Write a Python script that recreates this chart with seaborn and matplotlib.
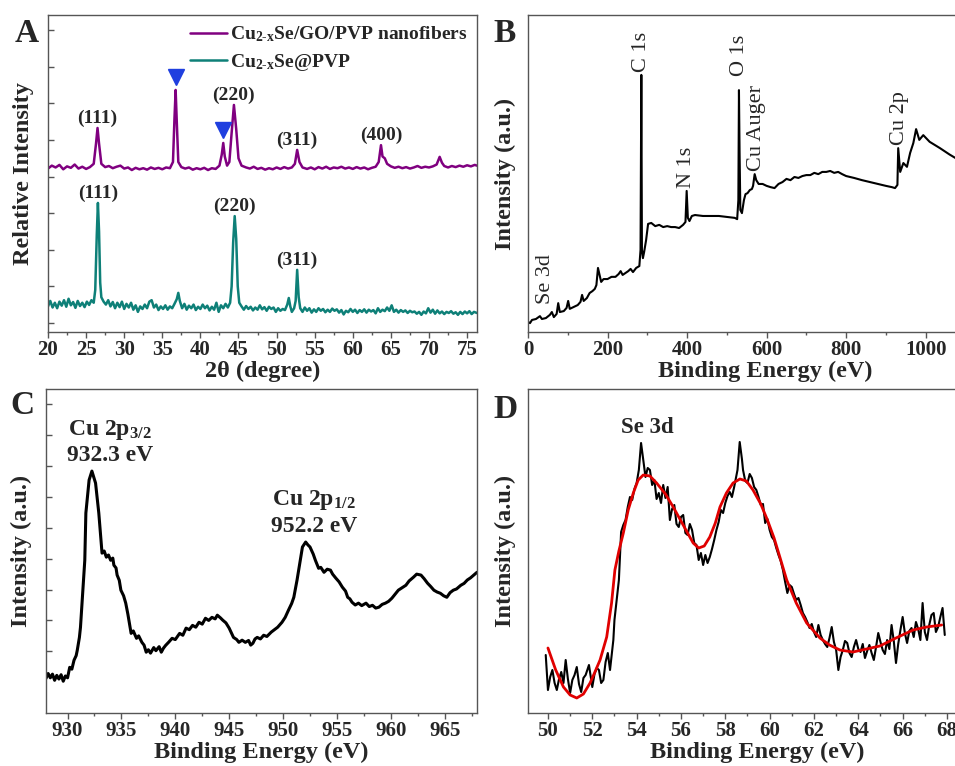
import numpy as np
import matplotlib
matplotlib.use("Agg")
import matplotlib.pyplot as plt
import seaborn as sns

# ---------------- data ----------------
# A: XRD patterns (2theta in degree, relative intensity, arbitrary offset units)
xrd_angle_go = [20.0, 20.5, 21.0, 21.5, 22.0, 22.5, 23.0, 23.5, 24.0, 24.5, 25.0, 25.5, 26.0, 26.3, 26.5, 26.7, 27.0,
                27.5, 28.0, 28.5, 29.0, 29.5, 30.0, 30.5, 31.0, 31.5, 32.0, 32.5, 33.0, 33.5, 34.0, 34.5, 35.0, 35.5,
                36.0, 36.4, 36.6, 36.75, 36.9, 37.1, 37.5, 38.0, 38.5, 39.0, 39.5, 40.0, 40.5, 41.0, 41.5, 42.0, 42.5,
                42.8, 43.0, 43.2, 43.5, 43.8, 44.1, 44.4, 44.7, 45.0, 45.4, 46.0, 46.5, 47.0, 47.5, 48.0, 48.5, 49.0,
                49.5, 50.0, 50.5, 51.0, 51.5, 52.0, 52.4, 52.7, 53.0, 53.4, 54.0, 54.5, 55.0, 55.5, 56.0, 56.5, 57.0,
                57.5, 58.0, 58.5, 59.0, 59.5, 60.0, 60.5, 61.0, 61.5, 62.0, 62.5, 63.0, 63.4, 63.7, 63.9, 64.2, 64.5,
                65.0, 65.5, 66.0, 66.5, 67.0, 67.5, 68.0, 68.5, 69.0, 69.5, 70.0, 70.5, 71.0, 71.4, 71.7, 72.0, 72.5,
                73.0, 73.5, 74.0, 74.5, 75.0, 75.5, 76.0, 76.3]
xrd_int_go = [4.22, 4.30, 4.25, 4.32, 4.20, 4.28, 4.24, 4.33, 4.22, 4.27, 4.21, 4.26, 4.35, 4.90, 5.33, 4.90, 4.35,
              4.26, 4.29, 4.23, 4.27, 4.30, 4.22, 4.25, 4.18, 4.24, 4.20, 4.23, 4.19, 4.25, 4.21, 4.24, 4.20, 4.25,
              4.23, 4.40, 5.60, 6.37, 5.50, 4.40, 4.26, 4.22, 4.25, 4.19, 4.23, 4.20, 4.24, 4.18, 4.23, 4.21, 4.30,
              4.60, 4.92, 4.55, 4.30, 4.40, 5.20, 5.96, 5.30, 4.50, 4.30, 4.25, 4.22, 4.27, 4.21, 4.24, 4.19, 4.23,
              4.20, 4.25, 4.21, 4.26, 4.22, 4.25, 4.35, 4.73, 4.40, 4.25, 4.21, 4.25, 4.20, 4.26, 4.22, 4.27, 4.21,
              4.25, 4.23, 4.27, 4.22, 4.25, 4.21, 4.26, 4.22, 4.25, 4.20, 4.24, 4.27, 4.40, 4.86, 4.55, 4.50, 4.35,
              4.28, 4.24, 4.27, 4.23, 4.26, 4.22, 4.25, 4.29, 4.24, 4.27, 4.25, 4.28, 4.33, 4.54, 4.38, 4.29, 4.25,
              4.29, 4.26, 4.30, 4.27, 4.31, 4.28, 4.32, 4.30]

xrd_angle_pvp = [20.0, 20.3, 20.6, 20.9, 21.2, 21.5, 21.8, 22.1, 22.4, 22.7, 23.0, 23.3, 23.6, 23.9, 24.2, 24.5, 24.8,
                 25.1, 25.4, 25.7, 26.0, 26.2, 26.4, 26.55, 26.7, 26.85, 27.0, 27.3, 27.6, 27.9, 28.2, 28.5, 28.8,
                 29.1, 29.4, 29.7, 30.0, 30.3, 30.6, 30.9, 31.2, 31.5, 31.8, 32.1, 32.4, 32.7, 33.0, 33.3, 33.6, 33.9,
                 34.2, 34.5, 34.8, 35.1, 35.4, 35.7, 36.0, 36.3, 36.6, 36.9, 37.1, 37.3, 37.6, 37.9, 38.2, 38.5, 38.8,
                 39.1, 39.4, 39.7, 40.0, 40.3, 40.6, 40.9, 41.2, 41.5, 41.8, 42.1, 42.4, 42.7, 43.0, 43.3, 43.6, 43.9,
                 44.1, 44.3, 44.5, 44.7, 44.9, 45.1, 45.4, 45.7, 46.0, 46.3, 46.6, 46.9, 47.2, 47.5, 47.8, 48.1, 48.4,
                 48.7, 49.0, 49.3, 49.6, 49.9, 50.2, 50.5, 50.8, 51.1, 51.4, 51.6, 51.8, 52.0, 52.3, 52.5, 52.7, 52.9,
                 53.1, 53.4, 53.7, 54.0, 54.3, 54.6, 54.9, 55.2, 55.5, 55.8, 56.1, 56.4, 56.7, 57.0, 57.3, 57.6, 57.9,
                 58.2, 58.5, 58.8, 59.1, 59.4, 59.7, 60.0, 60.3, 60.6, 60.9, 61.2, 61.5, 61.8, 62.1, 62.4, 62.7, 63.0,
                 63.3, 63.6, 63.9, 64.2, 64.5, 64.8, 65.1, 65.4, 65.7, 66.0, 66.3, 66.6, 66.9, 67.2, 67.5, 67.8, 68.1,
                 68.4, 68.7, 69.0, 69.3, 69.6, 69.9, 70.2, 70.5, 70.8, 71.1, 71.4, 71.7, 72.0, 72.3, 72.6, 72.9, 73.2,
                 73.5, 73.8, 74.1, 74.4, 74.7, 75.0, 75.3, 75.6, 75.9, 76.3]
xrd_int_pvp = [0.45, 0.60, 0.42, 0.55, 0.40, 0.58, 0.47, 0.62, 0.44, 0.66, 0.48, 0.57, 0.41, 0.60, 0.46, 0.55, 0.43,
               0.58, 0.49, 0.62, 0.55, 0.90, 2.40, 3.28, 2.50, 1.10, 0.70, 0.58, 0.50, 0.62, 0.45, 0.57, 0.40,
               0.55, 0.43, 0.58, 0.38, 0.52, 0.42, 0.55, 0.36, 0.48, 0.30, 0.45, 0.38, 0.50, 0.40, 0.58, 0.62, 0.42,
               0.50, 0.35, 0.45, 0.38, 0.48, 0.36, 0.45, 0.40, 0.52, 0.65, 0.82, 0.60, 0.40, 0.52, 0.36, 0.47, 0.40,
               0.50, 0.35, 0.44, 0.38, 0.50, 0.40, 0.47, 0.34, 0.44, 0.36, 0.55, 0.30, 0.48, 0.40, 0.52, 0.42, 0.55,
               1.00, 2.20, 2.92, 2.30, 1.00, 0.55, 0.45, 0.36, 0.46, 0.38, 0.44, 0.34, 0.42, 0.36, 0.48, 0.37, 0.43,
               0.33, 0.44, 0.38, 0.42, 0.30, 0.40, 0.33, 0.38, 0.35, 0.50, 0.68, 0.45, 0.30, 0.40, 0.60, 1.45, 0.70,
               0.40, 0.30, 0.42, 0.33, 0.40, 0.28, 0.37, 0.30, 0.40, 0.33, 0.38, 0.29, 0.36, 0.30, 0.39, 0.33, 0.37,
               0.28, 0.35, 0.23, 0.33, 0.29, 0.38, 0.30, 0.36, 0.27, 0.35, 0.30, 0.37, 0.28, 0.36, 0.31, 0.35, 0.26,
               0.40, 0.30, 0.36, 0.32, 0.42, 0.33, 0.48, 0.30, 0.36, 0.28, 0.35, 0.30, 0.34, 0.27, 0.33, 0.29, 0.31,
               0.25, 0.30, 0.22, 0.31, 0.26, 0.40, 0.28, 0.36, 0.25, 0.34, 0.26, 0.31, 0.24, 0.30, 0.27, 0.32, 0.25,
               0.29, 0.22, 0.30, 0.24, 0.31, 0.26, 0.32, 0.24, 0.30, 0.27]

# peak indexing in A
go_peaks = [(26.5, "(111)"), (44.4, "(220)"), (52.7, "(311)"), (63.7, "(400)")]
go_marked = [36.75, 43.0]
pvp_peaks = [(26.55, "(111)"), (44.5, "(220)"), (52.7, "(311)")]

# B: XPS survey
survey_be = [0, 5, 10, 20, 30, 35, 45, 55, 60, 65, 72, 76, 80, 90, 97, 101, 105, 115, 125, 132, 136, 140, 148, 155,
             162, 168, 172, 176, 180, 184, 190, 200, 210, 220, 228, 233, 238, 245, 252, 258, 264, 272, 280, 283,
             284.3, 285, 285.8, 286.5, 289, 292, 297, 302, 310, 320, 330, 340, 350, 360, 370, 380, 390, 396, 399,
             402, 406, 412, 420, 440, 460, 480, 500, 520, 526, 529, 530.5, 532, 534, 538, 543, 547, 552, 558, 563,
             566, 570, 574, 580, 590, 600, 610, 620, 630, 640, 650, 660, 670, 680, 690, 700, 710, 720, 730, 740,
             750, 760, 770, 780, 790, 800, 820, 840, 860, 880, 900, 915, 923, 929, 931, 936, 944, 953, 961, 969,
             976, 984, 994, 1010, 1036, 1060, 1080]
survey_int = [3.2, 2.8, 3.8, 4.1, 5.0, 4.1, 4.4, 5.4, 6.3, 4.7, 5.7, 9.1, 6.3, 6.6, 7.6, 9.8, 7.3, 7.9, 8.5, 9.5,
              11.7, 9.8, 10.7, 12.3, 12.9, 13.6, 14.8, 20.2, 18.0, 15.8, 16.7, 16.7, 17.4, 17.4, 18.3, 19.2, 18.0,
              18.6, 19.2, 19.9, 18.9, 20.2, 20.8, 25.9, 60.0, 81.1, 55.0, 26.0, 23.3, 25.2, 29.0, 34.1, 34.4, 33.4,
              33.8, 33.1, 33.4, 33.1, 33.1, 32.8, 33.8, 34.7, 44.5, 36.0, 35.0, 36.6, 36.9, 36.6, 36.6, 36.6, 36.3,
              36.0, 35.6, 41.6, 76.3, 57.4, 38.5, 37.5, 41.6, 43.5, 43.8, 44.8, 45.1, 46.1, 49.8, 47.9, 46.7, 46.7,
              46.1, 45.7, 45.4, 46.7, 47.3, 48.3, 47.9, 48.9, 48.6, 49.2, 49.5, 49.5, 50.2, 49.8, 50.5, 50.5, 50.8,
              50.2, 50.5, 49.8, 49.2, 48.6, 47.9, 47.3, 46.7, 46.1, 45.7, 45.4, 46.4, 58.0, 50.5, 53.3, 52.1, 56.5,
              59.6, 64.0, 60.6, 62.1, 60.0, 58.0, 56.0, 54.5]
survey_labels = [("C 1s", 285, 2), ("N 1s", 399, 2), ("O 1s", 531, 10), ("Cu Auger", 574, 2),
                 ("Cu 2p", 934, 2), ("Se 3d", 43, 10)]

# C: Cu 2p high resolution
cu_be = [928.0, 928.2, 928.4, 928.6, 928.8, 929.0, 929.2, 929.4, 929.6, 929.8, 930.0, 930.2, 930.4, 930.6, 930.8,
         930.9, 931.1, 931.2, 931.4, 931.6, 931.7, 932.0, 932.26, 932.6, 932.9, 933.2, 933.4, 933.6, 933.8, 934.0,
         934.2, 934.3, 934.5, 934.6, 934.8, 934.95, 935.2, 935.4, 935.6, 935.9, 936.1, 936.4, 936.6, 936.9, 937.1,
         937.3, 937.5, 937.7, 938.0, 938.2, 938.5, 938.7, 938.9, 939.1, 939.4, 939.7, 940.0, 940.4, 940.7, 941.0,
         941.3, 941.6, 941.9, 942.2, 942.5, 942.8, 943.1, 943.4, 943.7, 943.9, 944.2, 944.4, 944.7, 945.0, 945.2,
         945.4, 945.7, 945.9, 946.2, 946.5, 946.8, 947.0, 947.2, 947.4, 947.6, 947.9, 948.2, 948.5, 948.9, 949.2,
         949.5, 949.7, 949.9, 950.2, 950.5, 950.8, 951.0, 951.3, 951.6, 951.8, 952.1, 952.3, 952.5, 952.8, 953.0,
         953.3, 953.5, 953.8, 954.1, 954.4, 954.6, 954.9, 955.2, 955.5, 955.8, 956.0, 956.2, 956.4, 956.7, 957.0,
         957.3, 957.7, 958.0, 958.3, 958.6, 958.9, 959.2, 959.5, 959.8, 960.1, 960.4, 960.7, 961.0, 961.4, 961.7,
         962.1, 962.4, 962.8, 963.1, 963.4, 963.7, 964.0, 964.3, 964.6, 964.9, 965.2, 965.5, 965.8, 966.1, 966.5,
         966.8, 967.1, 967.4, 967.7, 968.0]
cu_int = [-0.88, -0.72, -0.86, -0.74, -0.94, -0.78, -0.90, -0.76, -0.97, -0.80, -0.86, -0.52, -0.58, -0.29, -0.14,
          0.03, 0.45, 0.78, 1.88, 2.95, 4.48, 5.55, 5.84, 5.45, 4.48, 3.18, 3.25, 3.05, 3.12, 2.95,
          3.02, 2.79, 2.70, 2.47, 2.30, 1.98, 1.80, 1.56, 1.20, 0.58, 0.66, 0.42, 0.50, 0.29, 0.20,
          -0.03, 0.05, -0.06, 0.12, 0.02, 0.15, -0.03, 0.10, 0.19, 0.30, 0.42, 0.38, 0.58, 0.52, 0.75,
          0.70, 0.84, 0.78, 0.94, 0.88, 1.07, 1.00, 1.10, 1.05, 1.17, 1.08, 1.01, 0.92, 0.75, 0.60,
          0.45, 0.38, 0.29, 0.36, 0.29, 0.35, 0.20, 0.26, 0.40, 0.45, 0.40, 0.52, 0.48, 0.62, 0.70,
          0.78, 0.86, 0.94, 1.10, 1.33, 1.55, 1.75, 2.31, 2.95, 3.38, 3.54, 3.45, 3.38, 3.15, 2.95,
          2.69, 2.72, 2.56, 2.66, 2.63, 2.50, 2.37, 2.25, 2.08, 1.95, 1.75, 1.70, 1.59, 1.50, 1.56,
          1.48, 1.56, 1.45, 1.49, 1.40, 1.43, 1.52, 1.56, 1.62, 1.72, 1.85, 1.98, 2.05, 2.14, 2.28,
          2.40, 2.50, 2.47, 2.35, 2.21, 2.10, 1.98, 1.92, 1.88, 1.80, 1.75, 1.90, 1.98, 2.02, 2.14,
          2.20, 2.31, 2.38, 2.47, 2.56]

# D: Se 3d high resolution (raw + fit)
se_be = [49.9, 50.0, 50.1, 50.2, 50.3, 50.4, 50.5, 50.6, 50.7, 50.8, 50.9, 51.0, 51.1, 51.2, 51.3, 51.4, 51.5, 51.6,
         51.7, 51.85, 52.0, 52.1, 52.2, 52.3, 52.4, 52.5, 52.6, 52.7, 52.8, 52.95, 53.0, 53.1, 53.2, 53.3, 53.4,
         53.5, 53.6, 53.7, 53.8, 53.9, 54.0, 54.1, 54.2, 54.3, 54.4, 54.5, 54.6, 54.7, 54.8, 54.9, 55.0, 55.1,
         55.2, 55.3, 55.4, 55.5, 55.6, 55.7, 55.8, 55.9, 56.0, 56.1, 56.2, 56.3, 56.4, 56.5, 56.6, 56.7, 56.8,
         56.9, 57.0, 57.1, 57.2, 57.3, 57.4, 57.5, 57.6, 57.7, 57.8, 57.9, 58.0, 58.1, 58.2, 58.3, 58.4, 58.55,
         58.65, 58.75, 58.8, 58.9, 59.0, 59.1, 59.2, 59.3, 59.4, 59.5, 59.6, 59.7, 59.8, 59.9, 60.0, 60.1, 60.2,
         60.3, 60.4, 60.5, 60.6, 60.7, 60.8, 60.9, 61.0, 61.1, 61.2, 61.3, 61.4, 61.5, 61.6, 61.7, 61.8, 61.9,
         62.0, 62.1, 62.2, 62.3, 62.4, 62.5, 62.6, 62.7, 62.8, 62.9, 63.0, 63.1, 63.2, 63.3, 63.4, 63.5, 63.6,
         63.7, 63.8, 63.9, 64.0, 64.1, 64.2, 64.3, 64.4, 64.5, 64.6, 64.7, 64.8, 64.9, 65.0, 65.1, 65.2, 65.3,
         65.4, 65.5, 65.6, 65.7, 65.8, 65.9, 66.0, 66.1, 66.2, 66.3, 66.4, 66.5, 66.6, 66.7, 66.8, 66.9, 67.0,
         67.1, 67.2, 67.3, 67.4, 67.5, 67.6, 67.7, 67.8, 67.9]
se_int = [5.8, 2.3, 3.6, 4.3, 3.0, 2.3, 3.4, 4.1, 3.0, 5.3, 3.4, 2.0, 3.3, 3.8, 4.6, 2.9, 2.1, 3.5,
          3.8, 4.8, 2.6, 3.9, 4.5, 4.3, 3.0, 3.3, 5.1, 6.0, 4.3, 7.3, 9.3, 11.3, 13.3, 18.1, 18.8,
          19.3, 20.6, 21.6, 21.3, 22.4, 23.0, 24.3, 27.0, 25.3, 23.6, 24.5, 24.3, 22.8, 23.3, 21.4, 22.0, 21.0,
          22.8, 21.5, 22.6, 19.3, 20.4, 20.8, 18.9, 18.6, 19.6, 19.8, 18.0, 17.8, 18.9, 18.3, 17.0, 16.8, 15.3,
          16.0, 14.8, 15.8, 15.0, 15.6, 16.4, 17.3, 18.3, 19.1, 20.3, 20.0, 21.0, 21.7, 22.1, 21.6, 22.6, 24.3,
          27.1, 25.4, 24.3, 23.2, 23.0, 23.9, 23.5, 22.6, 22.3, 21.6, 20.8, 20.9, 19.0, 19.4, 18.3, 17.6, 17.3,
          16.5, 15.8, 15.2, 14.3, 13.1, 12.0, 12.8, 12.6, 11.9, 11.3, 11.5, 10.8, 10.0, 9.6, 9.1, 8.5, 8.9,
          8.1, 7.6, 8.8, 7.8, 7.3, 6.9, 6.6, 7.5, 8.6, 7.1, 6.3, 4.3, 5.6, 6.3, 7.2, 7.0, 6.0,
          5.6, 6.6, 7.3, 6.4, 6.1, 6.9, 5.5, 6.2, 6.8, 6.0, 5.3, 6.6, 8.0, 7.1, 6.3, 5.9, 7.3,
          6.4, 8.8, 7.2, 5.0, 6.9, 8.3, 9.6, 8.0, 7.0, 8.2, 8.5, 7.6, 9.1, 8.4, 7.3, 11.0, 8.1,
          7.3, 8.8, 9.8, 10.0, 8.1, 8.6, 9.6, 10.5, 7.8]
fit_be = [50.0, 50.35, 50.7, 51.0, 51.3, 51.6, 51.9, 52.1, 52.35, 52.65, 52.87, 53.02, 53.2, 53.4, 53.62, 53.85,
          54.07, 54.3, 54.6, 54.9, 55.3, 55.65, 56.0, 56.3, 56.55, 56.8, 57.05, 57.3, 57.55, 57.76, 58.05, 58.35,
          58.66, 58.95, 59.25, 59.6, 59.9, 60.2, 60.46, 60.77, 61.2, 61.67, 62.27, 62.7, 63.17, 63.76, 64.37,
          64.97, 65.7, 66.47, 67.08, 67.76]
fit_int = [6.5, 4.3, 2.6, 1.8, 1.5, 1.9, 3.0, 4.0, 5.3, 7.6, 11.0, 14.3, 16.2, 18.0, 20.3, 22.0,
           23.3, 23.8, 23.7, 23.0, 21.9, 20.6, 19.2, 18.0, 17.0, 16.5, 16.7, 17.6, 19.0, 20.6, 22.0, 23.0,
           23.4, 23.2, 22.3, 20.9, 19.3, 17.5, 15.6, 13.3, 11.0, 9.0, 7.5, 6.8, 6.3, 6.1, 6.4,
           6.7, 7.5, 8.3, 8.6, 8.8]

# ---------------- style ----------------
sns.set_theme(style="ticks")
plt.rcParams["font.family"] = ["Liberation Serif", "DejaVu Serif"]
plt.rcParams["font.weight"] = "bold"
plt.rcParams["axes.labelweight"] = "bold"
plt.rcParams["mathtext.fontset"] = "custom"
plt.rcParams["mathtext.rm"] = "Liberation Serif:bold"
plt.rcParams["mathtext.it"] = "Liberation Serif:italic:bold"
plt.rcParams["mathtext.bf"] = "Liberation Serif:bold"
plt.rcParams["mathtext.default"] = "rm"

W, H = 955, 766
fig = plt.figure(figsize=(W / 100, H / 100), dpi=100)


def box(l, r, t, b):
    return [l / W, 1 - b / H, (r - l) / W, (b - t) / H]


def style_axes(ax, yticks=True):
    for s in ax.spines.values():
        s.set_color("#555555")
        s.set_linewidth(1.0)
        s.set_visible(True)
    ax.tick_params(axis="x", which="major", direction="out", length=4, width=1, color="#555555",
                   labelsize=15, pad=2)
    ax.tick_params(axis="x", which="minor", direction="out", length=2.5, width=1, color="#555555")
    ax.tick_params(axis="y", which="both", direction="in", length=4, width=1, color="#555555",
                   labelleft=False, left=yticks)
    for lab in ax.get_xticklabels():
        lab.set_fontweight("bold")
    ax.grid(False)


def peak_top(xs, ys, x0, w=0.4):
    xs = np.asarray(xs)
    ys = np.asarray(ys)
    m = np.abs(xs - x0) <= w
    return ys[m].max()


# ---- A ----
axA = fig.add_axes(box(48, 477, 15, 332))
sns.lineplot(x=xrd_angle_go, y=xrd_int_go, ax=axA, color="#800080", lw=1.8, estimator=None, sort=False,
             label=r"Cu$_{2\text{-}x}$Se/GO/PVP nanofibers")
sns.lineplot(x=xrd_angle_pvp, y=xrd_int_pvp, ax=axA, color="#0e8078", lw=1.8, estimator=None, sort=False,
             label=r"Cu$_{2\text{-}x}$Se@PVP")
for x0, txt in go_peaks:
    axA.annotate(txt, (x0, peak_top(xrd_angle_go, xrd_int_go, x0)), xytext=(0, 7), textcoords="offset points",
                 ha="center", va="center", fontsize=14, fontweight="bold")
for x0, txt in pvp_peaks:
    axA.annotate(txt, (x0, peak_top(xrd_angle_pvp, xrd_int_pvp, x0)), xytext=(0, 7), textcoords="offset points",
                 ha="center", va="center", fontsize=14, fontweight="bold")
shift = matplotlib.transforms.ScaledTranslation(0, 9 / 72, fig.dpi_scale_trans)
for x0 in go_marked:
    axA.plot([x0], [peak_top(xrd_angle_go, xrd_int_go, x0, 0.2)], marker="v", ms=11, color="#1f3fdf",
             transform=axA.transData + shift)
axA.set_xlim(20, 76.3)
axA.set_ylim(-0.25, 8.42)
axA.set_xticks(np.arange(20, 76, 5))
axA.set_xticks(np.arange(22.5, 76, 5), minor=True)
axA.set_yticks(np.arange(0, 9, 1))
axA.set_xlabel("2θ (degree)", fontsize=17.5, labelpad=0)
axA.set_ylabel("Relative Intensity", fontsize=17.5, labelpad=10)
leg = axA.legend(loc="upper right", frameon=False, fontsize=14, handlelength=1.9, handletextpad=0.15,
                 labelspacing=0.4, borderaxespad=0.1)
for t in leg.get_texts():
    t.set_fontweight("bold")
style_axes(axA)

# ---- B ----
axB = fig.add_axes(box(528, 1002, 15, 332))
sns.lineplot(x=survey_be, y=survey_int, ax=axB, color="black", lw=1.5, estimator=None, sort=False)
for txt, x0, off in survey_labels:
    axB.annotate(txt, (x0, peak_top(survey_be, survey_int, x0, 4)), xytext=(0, off), textcoords="offset points",
                 rotation=90, ha="center", va="bottom", fontsize=16, fontweight="normal")
axB.set_xlim(0, 1192)
axB.set_ylim(0, 100)
axB.set_xticks(np.arange(0, 1001, 200))
axB.set_xticks(np.arange(100, 1200, 200), minor=True)
axB.set_xlabel("Binding Energy (eV)", fontsize=17.5, labelpad=0)
axB.set_ylabel("Intensity (a.u.)", fontsize=17.5, labelpad=9)
style_axes(axB, yticks=False)

# ---- C ----
axC = fig.add_axes(box(46, 477, 389, 713))
sns.lineplot(x=cu_be, y=cu_int, ax=axC, color="black", lw=2.2, estimator=None, sort=False)
axC.text(933.9, 7.18, r"Cu 2p$_{3/2}$", ha="center", va="center", fontsize=17, fontweight="bold")
axC.text(933.9, 6.36, "932.3 eV", ha="center", va="center", fontsize=17, fontweight="bold")
axC.text(952.9, 4.9, r"Cu 2p$_{1/2}$", ha="center", va="center", fontsize=17, fontweight="bold")
axC.text(952.9, 4.03, "952.2 eV", ha="center", va="center", fontsize=17, fontweight="bold")
axC.set_xlim(928, 968)
axC.set_ylim(-2.0, 8.5)
axC.set_xticks(np.arange(930, 966, 5))
axC.set_xticks(np.arange(932.5, 968, 5), minor=True)
axC.set_yticks(np.arange(0, 9, 1))
axC.set_xlabel("Binding Energy (eV)", fontsize=17.5, labelpad=0)
axC.set_ylabel("Intensity (a.u.)", fontsize=17.5, labelpad=10)
style_axes(axC)

# ---- D ----
axD = fig.add_axes(box(528, 986, 389, 713))
sns.lineplot(x=se_be, y=se_int, ax=axD, color="black", lw=1.5, estimator=None, sort=False)
sns.lineplot(x=fit_be, y=fit_int, ax=axD, color="#e00000", lw=2.0, estimator=None, sort=False)
axD.text(54.47, 28.6, "Se 3d", ha="center", va="center", fontsize=16.5, fontweight="bold")
axD.set_xlim(49.1, 69.76)
axD.set_ylim(0, 32.4)
axD.set_xticks(np.arange(50, 69, 2))
axD.set_xticks(np.arange(51, 70, 2), minor=True)
axD.set_xlabel("Binding Energy (eV)", fontsize=17.5, labelpad=0)
axD.set_ylabel("Intensity (a.u.)", fontsize=17.5, labelpad=9)
style_axes(axD, yticks=False)

# panel letters
for letter, px, py in [("A", 27, 33), ("B", 505, 33), ("C", 22, 405), ("D", 505, 410)]:
    fig.text(px / W, 1 - py / H, letter, ha="center", va="center", fontsize=24, fontweight="bold")

fig.savefig("out.png", dpi=100)
